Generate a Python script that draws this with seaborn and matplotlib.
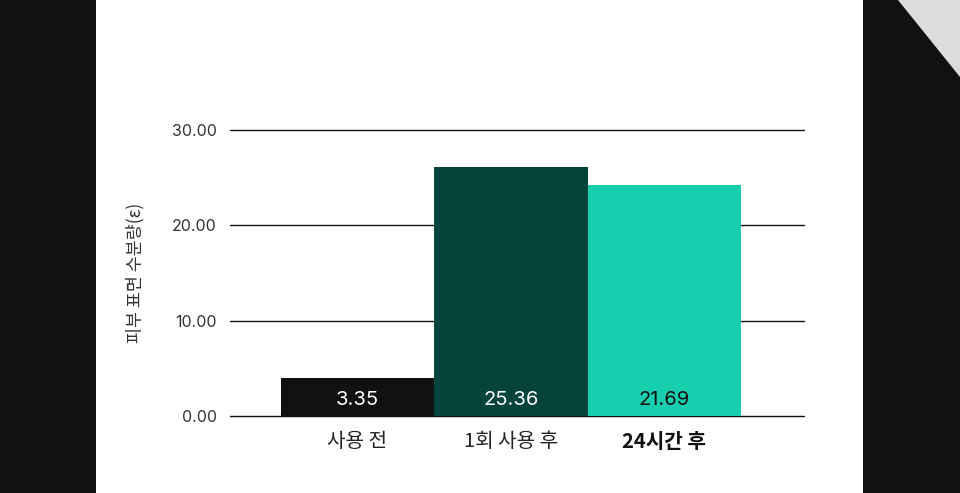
import matplotlib
matplotlib.use("Agg")
import matplotlib.pyplot as plt
from matplotlib.patches import Rectangle, Polygon
import seaborn as sns
import pandas as pd

categories = ["사용 전", "1회 사용 후", "24시간 후"]
bar_heights = [4.0, 26.1, 24.2]
value_labels = ["3.35", "25.36", "21.69"]
y_ticks = [0, 10, 20, 30]
y_tick_labels = ["0.00", "10.00", "20.00", "30.00"]
y_title = "피부 표면 수분량(ε)"

colors = ["#111111", "#05443B", "#17CFAE"]
label_colors = ["white", "white", "#111111"]

sns.set_theme(style="white")
plt.rcParams["font.family"] = ["Inter", "Noto Sans CJK KR", "DejaVu Sans"]

fig = plt.figure(figsize=(9.6, 4.93), dpi=100)
fig.patch.set_facecolor("#111111")
fig.patches.append(Rectangle((96 / 960, 0), (863 - 96) / 960, 1, transform=fig.transFigure,
                             facecolor="white", edgecolor="none", zorder=-10))
fig.patches.append(Polygon([(898 / 960, 1), (1, 1), (1, 1 - 77 / 493)], closed=True,
                           transform=fig.transFigure, facecolor="#DCDCDC", edgecolor="none", zorder=-10))

ax = fig.add_axes([230 / 960, 1 - 416 / 493, (804 - 230) / 960, (416 - 130) / 493])
ax.set_zorder(5)
ax.set_facecolor("none")

df = pd.DataFrame({"cat": categories, "val": bar_heights})
sns.barplot(data=df, x="cat", y="val", hue="cat", palette=colors, width=1.0,
            legend=False, ax=ax, saturation=1, zorder=3, linewidth=0, edgecolor="none")

ax.set_xlim(-0.83, 2.91)
ax.set_ylim(0, 30)
ax.set_yticks(y_ticks)
ax.set_yticklabels(y_tick_labels, fontsize=11.5, color="#333333", family=["Inter", "DejaVu Sans"])
for y in y_ticks:
    ax.axhline(y, color="#111111", linewidth=1.0, zorder=1, clip_on=False)

for i, (lab, c) in enumerate(zip(value_labels, label_colors)):
    ax.text(i, 1.7, lab, ha="center", va="center", fontsize=14.5, color=c,
            family=["Inter", "DejaVu Sans"], zorder=5)

ax.set_xticks(range(len(categories)))
ax.set_xticklabels(categories, fontsize=14.5, color="#222222",
                   family=["Noto Sans CJK KR", "DejaVu Sans"])
ax.get_xticklabels()[2].set_fontweight("bold")
ax.get_xticklabels()[2].set_color("#111111")
ax.tick_params(axis="x", length=0, pad=11)
ax.tick_params(axis="y", length=0, pad=9.4)

ax.set_xlabel("")
ax.set_ylabel(y_title, fontsize=12.5, color="#333333", family=["Noto Sans CJK KR", "DejaVu Sans"],
              labelpad=20)
for s in ax.spines.values():
    s.set_visible(False)

fig.savefig("out.png", dpi=100, facecolor=fig.get_facecolor())
